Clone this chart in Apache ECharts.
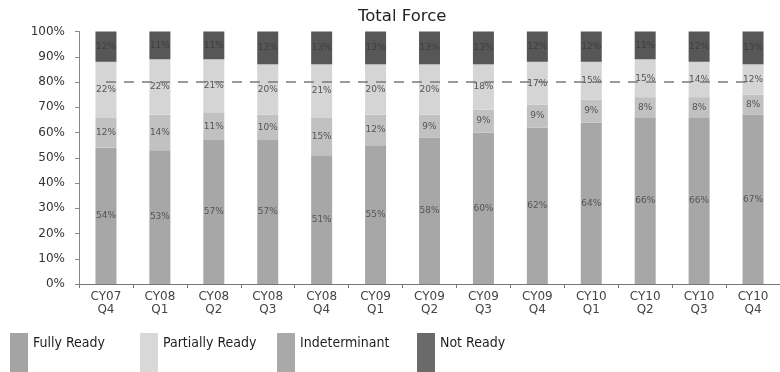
<!DOCTYPE html>
<html>
<head>
<meta charset="utf-8">
<script src="https://cdn.jsdelivr.net/npm/echarts@6/dist/echarts.min.js"></script>
<style>
  html, body { margin: 0; padding: 0; background: #ffffff; }
  #chart { width: 780px; height: 372px; }
</style>
</head>
<body>
<div id="chart"></div>
<script>
// Quarterly readiness of the total force, stacked to 100%
const categories = ['CY07\nQ4', 'CY08\nQ1', 'CY08\nQ2', 'CY08\nQ3', 'CY08\nQ4', 'CY09\nQ1', 'CY09\nQ2',
                    'CY09\nQ3', 'CY09\nQ4', 'CY10\nQ1', 'CY10\nQ2', 'CY10\nQ3', 'CY10\nQ4'];
const fullyReady     = [54, 53, 57, 57, 51, 55, 58, 60, 62, 64, 66, 66, 67];
const indeterminant  = [12, 14, 11, 10, 15, 12,  9,  9,  9,  9,  8,  8,  8];
const partiallyReady = [22, 22, 21, 20, 21, 20, 20, 18, 17, 15, 15, 14, 12];
const notReady       = [12, 11, 11, 13, 13, 13, 13, 13, 12, 12, 11, 12, 13];
const yTicks = { min: 0, max: 100, interval: 10 };
const goalLevel = 80;

const axisFont = 'DejaVu Sans, Verdana, sans-serif';
const legendFont = '"Liberation Sans Narrow", "DejaVu Sans Condensed", "Arial Narrow", sans-serif';

function segLabel(color) {
  return {
    show: true,
    position: 'inside',
    formatter: '{c}%',
    fontFamily: axisFont,
    fontSize: 9,
    color: color
  };
}

// one legend block per series so each swatch sits in its own column
function legendAt(left, name, swatch) {
  return {
    left: left,
    top: 328,
    orient: 'horizontal',
    icon: 'rect',
    itemWidth: 18,
    itemHeight: 44,
    selectedMode: false,
    data: [{ name: name, itemStyle: { color: swatch } }],
    formatter: '{t|{name}}',
    textStyle: {
      rich: {
        t: {
          fontFamily: legendFont,
          fontSize: 14,
          color: '#1e1e1e',
          padding: [0, 0, 24, 0]
        }
      }
    }
  };
}

const chart = echarts.init(document.getElementById('chart'), null, { renderer: 'canvas' });

chart.setOption({
  backgroundColor: '#ffffff',
  animation: false,
  title: {
    text: 'Total Force',
    left: 353,
    top: 3,
    textStyle: { fontFamily: axisFont, fontSize: 16.5, fontWeight: 'normal', color: '#222' }
  },
  legend: [
    legendAt(5, 'Fully Ready', '#a4a4a4'),
    legendAt(135, 'Partially Ready', '#d8d8d8'),
    legendAt(272, 'Indeterminant', '#a9a9a9'),
    legendAt(412, 'Not Ready', '#6a6a6a')
  ],
  grid: { left: 79, right: -10, top: 31.5, bottom: 88, containLabel: false },
  xAxis: {
    type: 'category',
    data: categories,
    axisLine: { show: true, lineStyle: { color: '#777', width: 1 } },
    axisTick: { show: true, length: 4, alignWithLabel: false, lineStyle: { color: '#777' } },
    axisLabel: {
      interval: 0,
      margin: 6,
      fontFamily: axisFont,
      fontSize: 12,
      lineHeight: 13,
      color: '#444'
    }
  },
  yAxis: {
    type: 'value',
    min: yTicks.min,
    max: yTicks.max,
    interval: yTicks.interval,
    splitLine: { show: false },
    axisLine: { show: true, lineStyle: { color: '#888', width: 1 } },
    axisTick: { show: true, length: 4, lineStyle: { color: '#888' } },
    axisLabel: {
      formatter: '{value}%',
      margin: 14,
      fontFamily: axisFont,
      fontSize: 12,
      color: '#333'
    }
  },
  series: [
    {
      name: 'Fully Ready',
      type: 'bar',
      stack: 'force',
      barWidth: 21,
      data: fullyReady,
      itemStyle: { color: '#a7a7a7' },
      label: segLabel('#555')
    },
    {
      name: 'Indeterminant',
      type: 'bar',
      stack: 'force',
      barWidth: 21,
      data: indeterminant,
      itemStyle: { color: '#c1c1c1' },
      label: segLabel('#555')
    },
    {
      name: 'Partially Ready',
      type: 'bar',
      stack: 'force',
      barWidth: 21,
      data: partiallyReady,
      itemStyle: { color: '#d5d5d5' },
      label: segLabel('#555'),
      markLine: {
        silent: true,
        symbol: 'none',
        z: 10,
        label: { show: false },
        lineStyle: { color: '#7a7a7a', width: 1.5, type: [10, 8] },
        data: [[{ coord: [0, goalLevel] }, { coord: [categories.length - 1, goalLevel] }]]
      }
    },
    {
      name: 'Not Ready',
      type: 'bar',
      stack: 'force',
      barWidth: 21,
      data: notReady,
      itemStyle: { color: '#575757' },
      label: segLabel('#3e3e3e')
    }
  ]
});
</script>
</body>
</html>
